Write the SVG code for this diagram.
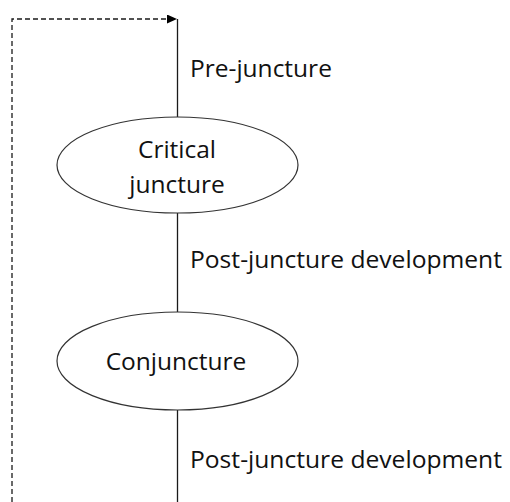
<svg xmlns="http://www.w3.org/2000/svg" width="510" height="502" viewBox="0 0 510 502">
<style>
.line{stroke:#1a1a1a;stroke-width:1.3;fill:none}
.dash{stroke:#1a1a1a;stroke-width:1.3;fill:none;stroke-dasharray:5 3}
.node{fill:#fff;stroke:#333;stroke-width:1.2}
.t{font-family:"Open Sans","Noto Sans",sans-serif;font-size:24.5px;fill:#111}
.c{text-anchor:middle}
</style>
<defs>
<marker id="arr" markerWidth="12" markerHeight="12" refX="10" refY="4.5" orient="auto" markerUnits="userSpaceOnUse">
<path d="M0,0 L10,4.5 L0,9 Z" fill="#000"/>
</marker>
</defs>
<rect width="510" height="502" fill="#fff"/>
<g id="connectors">
<path class="dash" d="M12,502 V19 H177" marker-end="url(#arr)"/>
<path class="line" d="M177.5,19 V117"/>
<path class="line" d="M177.5,213 V312"/>
<path class="line" d="M177.5,410 V502"/>
</g>
<g id="critical-juncture">
<ellipse class="node" cx="177.5" cy="165" rx="120.5" ry="48"/>
<text class="t c" x="177" y="158">Critical</text>
<text class="t c" x="177" y="193">juncture</text>
</g>
<g id="conjuncture">
<ellipse class="node" cx="177.5" cy="361" rx="120.5" ry="49"/>
<text class="t c" x="176" y="370">Conjuncture</text>
</g>
<g id="labels">
<text class="t" x="190" y="77">Pre-juncture</text>
<text class="t" x="190" y="268" textLength="312" lengthAdjust="spacingAndGlyphs">Post-juncture development</text>
<text class="t" x="190" y="468" textLength="312" lengthAdjust="spacingAndGlyphs">Post-juncture development</text>
</g>
</svg>
